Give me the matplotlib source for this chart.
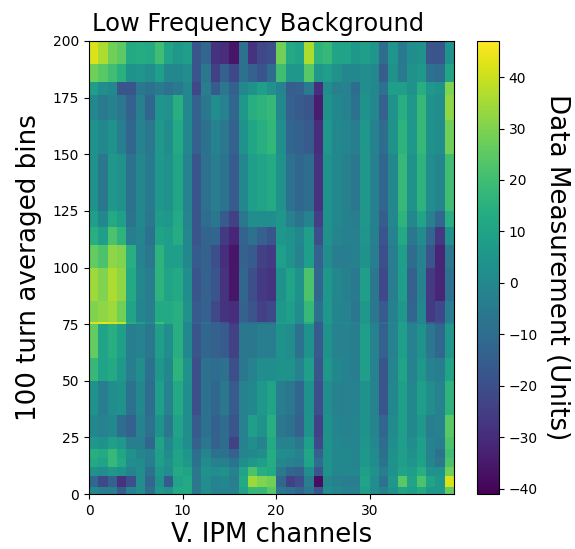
import numpy as np
import matplotlib
matplotlib.use('Agg')
import matplotlib.pyplot as plt

# bin edges of the bands, bottom to top
row_edges = [0, 3, 8, 12, 16, 20, 25, 35, 50, 60, 75, 76, 85, 100, 110, 118, 125, 150, 165, 176, 182, 190, 200]
channel_edges = list(range(40))

# one list per band, 39 channels each
band_0 = [0,-4,-4,-16,-2,2,-10,6,4,12,12,-6,2,-2,-2,-2,10,18,18,24,-6,-8,-12,-6,-18,2,0,-2,-2,8,2,-2,4,10,8,12,6,6,26]
band_3 = [-12,-22,-14,-28,-20,2,-12,4,-16,10,12,-6,2,-2,0,-4,12,34,30,28,-12,-24,-20,-4,-38,0,-3,-4,-4,10,2,-8,6,24,10,22,10,6,42]
band_8 = [4,2,6,4,-2,2,-8,6,2,12,10,-6,4,2,4,-2,10,22,14,12,-6,-12,-14,2,-18,3,0,0,0,8,4,-4,4,10,8,14,4,4,28]
band_12 = [12,10,18,12,2,1,-4,8,3,10,6,-8,1,-3,-3,-7,2,6,8,13,0,-2,-4,10,-10,4,0,0,-1,6,2,-7,4,8,5,9,-1,-6,22]
band_16 = [14,12,18,11,3,-1,-3,8,1,10,5,-9,-1,-8,-8,-14,-1,0,2,13,2,1,-2,11,-14,4,0,0,-1,6,1,-9,3,8,3,8,-2,-8,20]
band_20 = [6,4,8,6,-4,-4,-12,10,0,8,2,-14,-6,-14,-10,-24,-2,2,-2,12,-2,-2,-6,8,-22,4,0,-1,-1,5,0,-10,2,8,2,8,-2,-4,22]
band_25 = [0,-2,0,-10,-14,-2,-8,4,-6,10,2,-16,-8,-14,-10,-18,-2,8,4,14,-6,-8,-14,4,-24,4,-1,-2,-1,4,-1,-12,1,8,0,6,-4,-2,24]
band_35 = [4,-4,2,4,-8,0,-10,8,-2,12,2,-20,-8,-12,-6,-16,-2,0,6,10,-4,-6,-12,4,-20,2,-2,-3,-2,4,-2,-18,0,8,0,8,2,-2,16]
band_50 = [18,10,12,6,-4,2,-8,6,0,16,4,-20,-8,-10,-8,-20,-6,-2,2,2,4,4,-2,8,-18,6,0,-2,-4,8,-2,-18,-1,10,-2,6,-2,-4,10]
band_60 = [26,10,14,8,-4,-2,-6,8,2,14,0,-18,-12,-14,-16,-24,-6,-6,-4,-4,4,2,-8,4,-16,4,-2,-2,-4,8,-2,-14,-2,8,-2,4,-6,-12,6]
band_75 = [42,44,42,40,14,8,2,20,12,14,0,-14,-8,-14,-18,-28,-8,-8,-8,-8,8,8,2,14,-16,6,0,0,-2,6,-4,-10,0,8,-4,-2,-14,-18,0]
band_76 = [30,32,34,28,10,-1,-4,12,12,14,3,-16,-14,-22,-28,-30,-14,-18,-24,-22,6,8,2,18,-8,6,-1,-2,-6,6,-6,-16,-3,6,-12,0,-26,-22,-4]
band_85 = [34,30,36,32,12,0,-4,16,10,12,2,-18,-14,-18,-28,-36,-12,-20,-26,-28,4,10,4,22,-12,6,0,-3,-5,8,-6,-22,-4,8,-14,-2,-26,-32,-8]
band_100 = [26,22,32,30,14,-2,-6,16,8,8,0,-16,-14,-20,-30,-36,-14,-16,-24,-26,8,4,-2,8,-14,2,-4,-4,-3,4,-4,-20,-4,8,-10,-2,-18,-32,-6]
band_110 = [14,8,22,16,-4,-1,-8,10,8,13,0,-18,-13,-12,-26,-32,-13,-8,-14,-18,6,4,0,8,-20,3,-1,-3,-3,5,-3,-18,-2,12,-6,1,-12,-27,4]
band_118 = [8,0,12,8,-7,0,-6,7,6,12,-1,-18,-10,-6,-16,-24,-6,2,2,2,5,-3,-7,-2,-25,4,0,-3,-4,6,-3,-15,0,16,0,10,-3,-12,14]
band_125 = [4,-6,6,3,-8,0,-5,6,3,11,-2,-18,-8,-4,-7,-16,0,8,10,12,4,-8,-12,-10,-28,4,0,-3,-6,6,-3,-12,0,18,4,16,2,-1,20]
band_150 = [4,0,4,-4,-12,-2,-6,6,2,12,0,-14,-8,-2,-6,-14,4,11,14,17,2,-12,-14,-16,-30,6,0,-1,-4,6,-2,-10,4,16,6,18,4,2,28]
band_165 = [0,-5,-2,-6,-14,-3,-12,5,3,14,0,-14,-6,2,-2,-12,6,14,16,18,0,-14,-16,-18,-34,4,0,-2,-8,4,0,-14,4,14,6,18,4,2,32]
band_176 = [8,2,0,-18,-18,-6,-8,-5,-8,-5,0,-22,-4,-16,-6,-14,0,4,8,3,-2,-15,-14,-5,-30,2,-3,-2,-10,2,0,-8,8,8,3,14,6,4,30]
band_182 = [28,24,20,15,4,5,2,8,0,0,2,-18,-6,-24,-14,-22,-8,-14,-18,-10,20,6,6,24,6,8,3,0,0,2,0,-15,3,-5,3,6,-8,-10,10]
band_190 = [42,36,28,25,12,13,12,20,10,6,8,-18,-12,-28,-30,-36,-8,-28,-22,-20,28,12,10,36,16,18,10,10,6,8,5,-10,5,-5,2,3,-18,-18,4]

bands = [band_0, band_3, band_8, band_12, band_16, band_20, band_25, band_35, band_50, band_60, band_75,
         band_76, band_85, band_100, band_110, band_118, band_125, band_150, band_165, band_176, band_182, band_190]

cbar_ticks = [-40, -30, -20, -10, 0, 10, 20, 30, 40]
x_ticks = [0, 10, 20, 30]
y_ticks = [0, 25, 50, 75, 100, 125, 150, 175, 200]


def main():
    W, H = 575.0, 549.0
    fig = plt.figure(figsize=(W / 100, H / 100), dpi=100)
    ax = fig.add_axes([89 / W, 1 - 494 / H, 365 / W, 453 / H])
    cax = fig.add_axes([477 / W, 1 - 494 / H, 22 / W, 453 / H])

    mesh = ax.pcolormesh(channel_edges, row_edges, np.array(bands), cmap='viridis', vmin=-41, vmax=47)
    ax.set_xticks(x_ticks)
    ax.set_yticks(y_ticks)
    ax.set_title('Low Frequency Background', fontsize=17.4, pad=7, x=0.463)
    ax.set_xlabel('V. IPM channels', fontsize=18.7, labelpad=3)
    ax.set_ylabel('100 turn averaged bins', fontsize=18.8, labelpad=8)

    cb = fig.colorbar(mesh, cax=cax)
    cb.set_ticks(cbar_ticks)
    cb.set_label('Data Measurement (Units)', fontsize=18.8, rotation=270, labelpad=23)

    fig.savefig('out.png', dpi=100)


if __name__ == '__main__':
    main()
